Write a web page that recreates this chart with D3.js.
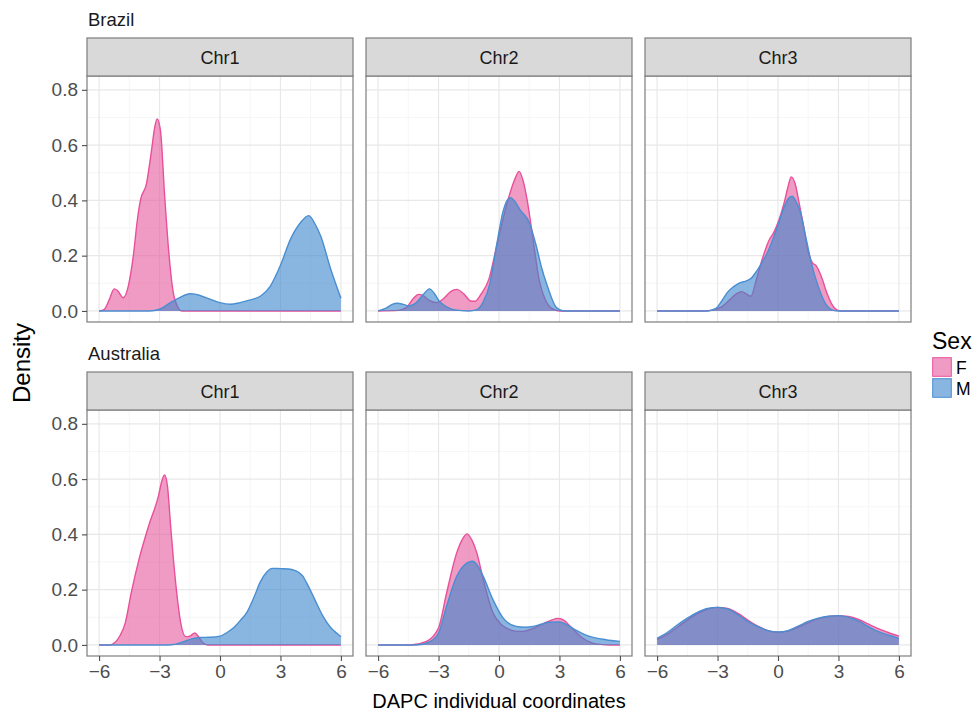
<!DOCTYPE html>
<html>
<head>
<meta charset="utf-8">
<script src="https://cdn.jsdelivr.net/npm/d3@7"></script>
<style>
  body { margin: 0; background: #fff; }
  svg text { font-family: "Liberation Sans", Arial, Helvetica, sans-serif; }
</style>
</head>
<body>
<div id="chart"></div>
<script>
// density curves: [DAPC coordinate, density]
const brazilChr1F = [[-6,0],[-5.75,0.005],[-5.5,0.04],[-5.25,0.08],[-5.1,0.075],[-4.8,0.048],[-4.55,0.09],[-4.3,0.2],[-4.1,0.33],[-3.95,0.4],[-3.65,0.46],[-3.4,0.58],[-3.25,0.66],[-3.12,0.695],[-2.95,0.65],[-2.75,0.42],[-2.55,0.22],[-2.35,0.08],[-2.1,0.015],[-1.9,0],[6,0]];
const brazilChr1M = [[-6,0],[-3.5,0],[-3,0.006],[-2.5,0.028],[-2,0.048],[-1.5,0.062],[-1.25,0.061],[-1,0.056],[-0.5,0.043],[0,0.03],[0.5,0.024],[1,0.03],[1.5,0.04],[2,0.053],[2.5,0.09],[3,0.165],[3.5,0.26],[4,0.32],[4.4,0.345],[4.75,0.31],[5,0.27],[5.5,0.15],[6,0.046]];
const brazilChr2F = [[-6,0],[-5,0.002],[-4.6,0.012],[-4.25,0.045],[-4,0.06],[-3.75,0.055],[-3.5,0.04],[-3.1,0.03],[-2.75,0.045],[-2.4,0.07],[-2.1,0.078],[-1.75,0.062],[-1.4,0.036],[-1.2,0.035],[-0.9,0.06],[-0.5,0.115],[-0.1,0.24],[0.4,0.39],[0.75,0.47],[1,0.505],[1.2,0.47],[1.4,0.4],[1.65,0.28],[2,0.11],[2.3,0.04],[2.6,0.01],[3,0],[6,0]];
const brazilChr2M = [[-6,0],[-5.6,0.01],[-5.3,0.024],[-5.05,0.028],[-4.75,0.024],[-4.45,0.018],[-4.1,0.03],[-3.75,0.06],[-3.45,0.08],[-3.2,0.062],[-2.95,0.034],[-2.6,0.015],[-2.2,0.004],[-1.5,0],[-1.1,0.005],[-0.8,0.03],[-0.45,0.1],[-0.1,0.245],[0.2,0.36],[0.55,0.41],[0.8,0.395],[1.05,0.365],[1.5,0.32],[1.85,0.235],[2.1,0.16],[2.4,0.09],[2.85,0.012],[3.2,0],[6,0]];
const brazilChr3F = [[-6,0],[-3.6,0],[-3.2,0.004],[-2.8,0.015],[-2.4,0.04],[-2.1,0.06],[-1.8,0.07],[-1.55,0.06],[-1.35,0.053],[-1.05,0.12],[-0.75,0.195],[-0.45,0.255],[-0.2,0.285],[0.05,0.33],[0.3,0.39],[0.5,0.45],[0.65,0.485],[0.85,0.46],[1.05,0.39],[1.25,0.315],[1.5,0.215],[1.7,0.175],[1.9,0.163],[2.15,0.125],[2.45,0.06],[2.75,0.015],[3.1,0],[6,0]];
const brazilChr3M = [[-6,0],[-3.5,0],[-3.1,0.008],[-2.8,0.035],[-2.5,0.068],[-2.2,0.088],[-1.95,0.1],[-1.6,0.108],[-1.35,0.117],[-1.05,0.145],[-0.8,0.175],[-0.5,0.215],[-0.25,0.26],[0,0.31],[0.25,0.365],[0.5,0.405],[0.7,0.415],[0.9,0.395],[1.1,0.36],[1.4,0.26],[1.65,0.175],[2,0.088],[2.4,0.022],[2.75,0.002],[3,0],[6,0]];

const australiaChr1F = [[-6,0],[-5.5,0],[-5.2,0.01],[-4.95,0.035],[-4.7,0.08],[-4.4,0.19],[-4,0.315],[-3.5,0.44],[-3.05,0.54],[-2.9,0.59],[-2.75,0.615],[-2.6,0.57],[-2.45,0.43],[-2.3,0.3],[-2.15,0.19],[-1.95,0.08],[-1.7,0.03],[-1.5,0.032],[-1.25,0.043],[-1.05,0.028],[-0.85,0.008],[-0.6,0],[6,0]];
const australiaChr1M = [[-6,0],[-2.6,0],[-2.2,0.003],[-1.8,0.012],[-1.4,0.022],[-1,0.027],[-0.5,0.028],[0,0.032],[0.35,0.045],[0.7,0.064],[1,0.088],[1.35,0.12],[1.7,0.175],[2,0.228],[2.3,0.262],[2.6,0.277],[3,0.276],[3.4,0.275],[3.7,0.27],[4.1,0.25],[4.4,0.21],[4.7,0.165],[5.1,0.105],[5.5,0.062],[5.8,0.042],[6,0.03]];
const australiaChr2F = [[-6,0],[-4.4,0],[-3.6,0.013],[-3,0.062],[-2.6,0.188],[-2.1,0.333],[-1.8,0.385],[-1.58,0.402],[-1.35,0.38],[-1.1,0.333],[-0.78,0.236],[-0.3,0.116],[0.1,0.075],[0.4,0.06],[0.8,0.05],[1.2,0.049],[1.7,0.06],[2.2,0.077],[2.6,0.09],[2.95,0.096],[3.25,0.088],[3.55,0.066],[4.15,0.025],[4.8,0.004],[5.5,0],[6,0]];
const australiaChr2M = [[-6,0],[-4.1,0],[-3.4,0.013],[-3,0.043],[-2.6,0.14],[-2.1,0.248],[-1.7,0.29],[-1.3,0.303],[-1,0.28],[-0.78,0.248],[-0.3,0.164],[0.2,0.098],[0.85,0.067],[1.3,0.064],[1.7,0.067],[2.1,0.075],[2.5,0.082],[3,0.083],[3.4,0.072],[3.7,0.058],[4.1,0.043],[4.5,0.031],[5.3,0.019],[6,0.013]];
const australiaChr3F = [[-6,0.02],[-5.5,0.038],[-5,0.064],[-4.5,0.09],[-4,0.113],[-3.5,0.13],[-3,0.136],[-2.5,0.132],[-2,0.115],[-1.5,0.09],[-1,0.068],[-0.5,0.052],[0,0.046],[0.5,0.05],[1,0.064],[1.5,0.081],[2,0.095],[2.5,0.103],[3,0.106],[3.5,0.103],[4,0.092],[4.5,0.075],[5,0.058],[5.5,0.044],[6,0.032]];
const australiaChr3M = [[-6,0.024],[-5.5,0.045],[-5,0.072],[-4.5,0.097],[-4,0.118],[-3.5,0.132],[-3,0.136],[-2.5,0.13],[-2,0.11],[-1.5,0.085],[-1,0.066],[-0.5,0.052],[0,0.047],[0.5,0.052],[1,0.068],[1.5,0.085],[2,0.097],[2.5,0.104],[3,0.106],[3.5,0.1],[4,0.086],[4.5,0.066],[5,0.048],[5.5,0.035],[6,0.024]];

const populations = ['Brazil', 'Australia'];
const chromosomes = ['Chr1', 'Chr2', 'Chr3'];
const sexes = ['F', 'M'];
const xTicks = [-6, -3, 0, 3, 6];
const yTicks = [0, 0.2, 0.4, 0.6, 0.8];

const curves = {
  Brazil: { Chr1: [brazilChr1F, brazilChr1M], Chr2: [brazilChr2F, brazilChr2M], Chr3: [brazilChr3F, brazilChr3M] },
  Australia: { Chr1: [australiaChr1F, australiaChr1M], Chr2: [australiaChr2F, australiaChr2M], Chr3: [australiaChr3F, australiaChr3M] }
};

const width = 976, height = 716;
const panelW = 266, panelH = 246, stripH = 38, gap = 13;
const colX = [87, 87 + panelW + gap, 87 + 2 * (panelW + gap)];
const rowTop = [38, 372]; // strip tops

const fillColor = d3.scaleOrdinal().domain(sexes).range(['#e6589c', '#3a86cc']);
const lineColor = d3.scaleOrdinal().domain(sexes).range(['#e8509a', '#4a8ed2']);
const fillOpacity = 0.6;

const x = d3.scaleLinear().domain([-6.6, 6.6]).range([0, panelW]);
const y = d3.scaleLinear().domain([-0.04, 0.85]).range([panelH, 0]);

const svg = d3.select('#chart').append('svg')
  .attr('width', width)
  .attr('height', height);

const area = d3.area()
  .x((d) => x(d[0]))
  .y0(y(0))
  .y1((d) => y(d[1]))
  .curve(d3.curveMonotoneX);
const line = d3.line()
  .x((d) => x(d[0]))
  .y((d) => y(d[1]))
  .curve(d3.curveMonotoneX);

populations.forEach((pop, r) => {
  // row title
  svg.append('text')
    .attr('x', 88)
    .attr('y', rowTop[r] - 12)
    .attr('font-size', 18.5)
    .attr('fill', '#1a1a1a')
    .text(pop);

  chromosomes.forEach((chr, c) => {
    const g = svg.append('g')
      .attr('transform', 'translate(' + colX[c] + ',' + (rowTop[r] + stripH) + ')');

    // strip
    const strip = svg.append('g')
      .attr('transform', 'translate(' + colX[c] + ',' + rowTop[r] + ')');
    strip.append('rect')
      .attr('width', panelW).attr('height', stripH)
      .attr('fill', '#d9d9d9')
      .attr('stroke', '#7d7d7d').attr('stroke-width', 1.2);
    strip.append('text')
      .attr('x', panelW / 2).attr('y', stripH / 2 + 6.5)
      .attr('text-anchor', 'middle')
      .attr('font-size', 18)
      .attr('fill', '#1a1a1a')
      .text(chr);

    // grid: minor then major
    g.selectAll('.xminor').data([-4.5, -1.5, 1.5, 4.5]).enter().append('line')
      .attr('x1', (d) => x(d)).attr('x2', (d) => x(d))
      .attr('y1', 0).attr('y2', panelH)
      .attr('stroke', '#f4f4f4').attr('stroke-width', 0.8);
    g.selectAll('.yminor').data([0.1, 0.3, 0.5, 0.7]).enter().append('line')
      .attr('x1', 0).attr('x2', panelW)
      .attr('y1', (d) => y(d)).attr('y2', (d) => y(d))
      .attr('stroke', '#f4f4f4').attr('stroke-width', 0.8);
    g.selectAll('.xmajor').data(xTicks).enter().append('line')
      .attr('x1', (d) => x(d)).attr('x2', (d) => x(d))
      .attr('y1', 0).attr('y2', panelH)
      .attr('stroke', '#e8e8e8').attr('stroke-width', 1.2);
    g.selectAll('.ymajor').data(yTicks).enter().append('line')
      .attr('x1', 0).attr('x2', panelW)
      .attr('y1', (d) => y(d)).attr('y2', (d) => y(d))
      .attr('stroke', '#e8e8e8').attr('stroke-width', 1.2);

    // densities, F first then M on top
    curves[pop][chr].forEach((pts, i) => {
      g.append('path')
        .attr('d', area(pts))
        .attr('fill', fillColor(sexes[i]))
        .attr('fill-opacity', fillOpacity);
      g.append('path')
        .attr('d', line(pts))
        .attr('fill', 'none')
        .attr('stroke', lineColor(sexes[i]))
        .attr('stroke-width', 1.4);
    });

    // panel border
    g.append('rect')
      .attr('width', panelW).attr('height', panelH)
      .attr('fill', 'none')
      .attr('stroke', '#7d7d7d').attr('stroke-width', 1.2);

    if (c === 0) {
      const yAxis = g.append('g')
        .call(d3.axisLeft(y).tickValues(yTicks).tickFormat(d3.format('.1f')).tickSize(5).tickPadding(4));
      yAxis.select('.domain').remove();
      yAxis.selectAll('line').attr('stroke', '#4d4d4d').attr('stroke-width', 1.1);
      yAxis.selectAll('text').attr('font-size', 19).attr('fill', '#4d4d4d')
        .attr('font-family', '"Liberation Sans", Arial, sans-serif');
    }
    if (r === 1) {
      const xAxis = g.append('g')
        .attr('transform', 'translate(0,' + panelH + ')')
        .call(d3.axisBottom(x).tickValues(xTicks).tickFormat(d3.format('d')).tickSize(5).tickPadding(4));
      xAxis.select('.domain').remove();
      xAxis.selectAll('line').attr('stroke', '#4d4d4d').attr('stroke-width', 1.1);
      xAxis.selectAll('text').attr('font-size', 19).attr('fill', '#4d4d4d')
        .attr('font-family', '"Liberation Sans", Arial, sans-serif');
    }
  });
});

// axis titles
svg.append('text')
  .attr('x', (colX[0] + colX[2] + panelW) / 2)
  .attr('y', 708)
  .attr('text-anchor', 'middle')
  .attr('font-size', 20)
  .attr('fill', '#000')
  .text('DAPC individual coordinates');
svg.append('text')
  .attr('transform', 'translate(30,363) rotate(-90)')
  .attr('text-anchor', 'middle')
  .attr('font-size', 24)
  .attr('fill', '#000')
  .text('Density');

// legend
const legend = svg.append('g').attr('transform', 'translate(932,333)');
legend.append('text')
  .attr('x', 0).attr('y', 15.5)
  .attr('font-size', 23)
  .attr('fill', '#000')
  .text('Sex');
sexes.forEach((s, i) => {
  const row = legend.append('g').attr('transform', 'translate(0,' + (24 + i * 21) + ')');
  row.append('rect')
    .attr('width', 20).attr('height', 20)
    .attr('fill', '#fff');
  row.append('rect')
    .attr('x', 0.7).attr('y', 0.7)
    .attr('width', 18.6).attr('height', 18.6)
    .attr('fill', fillColor(s)).attr('fill-opacity', fillOpacity)
    .attr('stroke', lineColor(s)).attr('stroke-width', 1);
  row.append('text')
    .attr('x', 24).attr('y', 16.5)
    .attr('font-size', 17.5)
    .attr('fill', '#000')
    .text(s);
});
</script>
</body>
</html>
